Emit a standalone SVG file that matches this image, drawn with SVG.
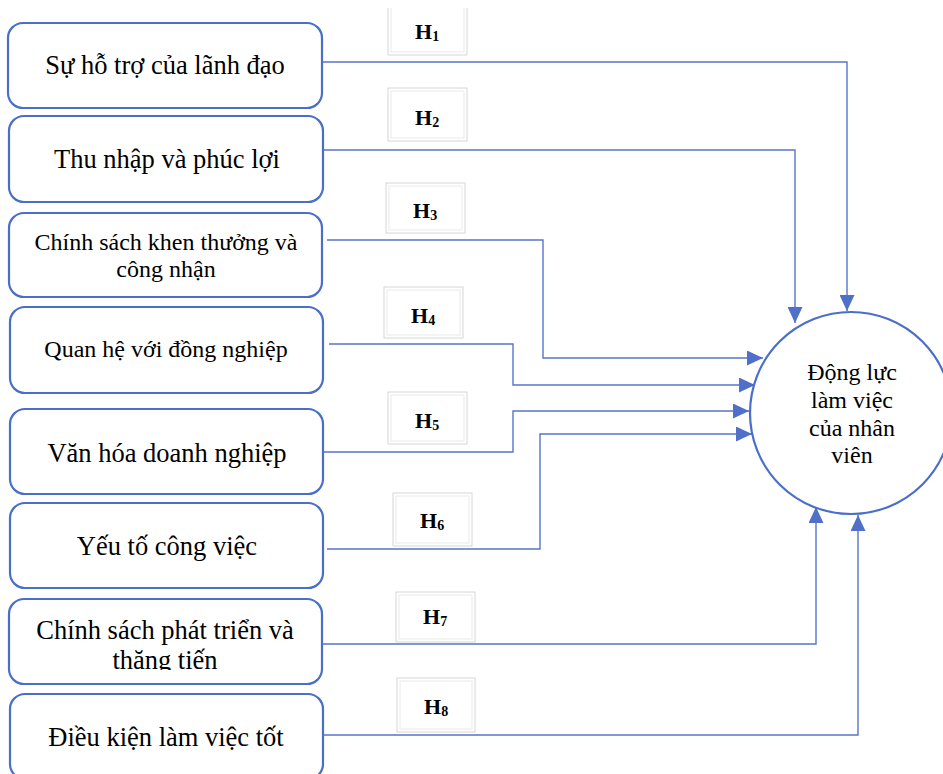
<svg xmlns="http://www.w3.org/2000/svg" width="943" height="774" viewBox="0 0 943 774">
  <style>
    .node { fill: #ffffff; stroke: #4a6fc8; stroke-width: 2.2; }
    .lbl { font-family: "Liberation Serif", "Times New Roman", serif; font-size: 26.5px; fill: #000000; text-anchor: middle; }
    .lbl-sm { font-size: 24px; }
    .hbox { fill: #ffffff; stroke: #d6d6d6; stroke-width: 1; }
    .hbox-in { fill: none; stroke: #e9e9e9; stroke-width: 1; }
    .htxt { font-family: "Liberation Serif", "Times New Roman", serif; font-size: 22px; font-weight: bold; fill: #000000; }
    .hsub { font-size: 14px; }
    .link { fill: none; stroke: #5874c8; stroke-width: 1.4; }
    .target { fill: #ffffff; stroke: #4a6fc8; stroke-width: 2.2; }
  </style>
  <defs>
    <marker id="arrow" viewBox="0 0 16 15" refX="16" refY="7.5" markerWidth="16" markerHeight="15" markerUnits="userSpaceOnUse" orient="auto">
      <path d="M0,0 L16,7.5 L0,15 Z" fill="#4f6fc9"/>
    </marker>
    <clipPath id="clip7">
      <rect x="0" y="590" width="340" height="80"/>
    </clipPath>
  </defs>

  <rect width="943" height="774" fill="#ffffff"/>

  <!-- connectors -->
  <g id="connectors">
    <path class="link" d="M322,62 H847 V311" marker-end="url(#arrow)"/>
    <path class="link" d="M323,150 H795 V323" marker-end="url(#arrow)"/>
    <path class="link" d="M327,240 H543 V358 H763" marker-end="url(#arrow)"/>
    <path class="link" d="M329,344 H513 V385 H755" marker-end="url(#arrow)"/>
    <path class="link" d="M324,452 H513 V411 H749" marker-end="url(#arrow)"/>
    <path class="link" d="M327,549 H540 V434 H752" marker-end="url(#arrow)"/>
    <path class="link" d="M323,644 H816 V507" marker-end="url(#arrow)"/>
    <path class="link" d="M324,735 H858 V515" marker-end="url(#arrow)"/>
  </g>

  <!-- hypothesis labels -->
  <g id="h1">
    <path class="hbox" d="M388,8 V55 H467 V8"/>
    <path class="hbox-in" d="M391,8 V52 H464 V8"/>
    <text class="htxt" x="415" y="39">H<tspan class="hsub" dy="2">1</tspan></text>
  </g>
  <g id="h2">
    <rect class="hbox" x="388" y="88" width="79" height="53"/>
    <rect class="hbox-in" x="391" y="91" width="73" height="47"/>
    <text class="htxt" x="415" y="125">H<tspan class="hsub" dy="2">2</tspan></text>
  </g>
  <g id="h3">
    <rect class="hbox" x="386" y="183" width="79" height="50"/>
    <rect class="hbox-in" x="389" y="186" width="73" height="44"/>
    <text class="htxt" x="413" y="218">H<tspan class="hsub" dy="2">3</tspan></text>
  </g>
  <g id="h4">
    <rect class="hbox" x="384" y="287" width="79" height="51"/>
    <rect class="hbox-in" x="387" y="290" width="73" height="45"/>
    <text class="htxt" x="411" y="323">H<tspan class="hsub" dy="2">4</tspan></text>
  </g>
  <g id="h5">
    <rect class="hbox" x="388" y="392" width="79" height="52"/>
    <rect class="hbox-in" x="391" y="395" width="73" height="46"/>
    <text class="htxt" x="415" y="428">H<tspan class="hsub" dy="2">5</tspan></text>
  </g>
  <g id="h6">
    <rect class="hbox" x="393" y="493" width="79" height="53"/>
    <rect class="hbox-in" x="396" y="496" width="73" height="47"/>
    <text class="htxt" x="420" y="528">H<tspan class="hsub" dy="2">6</tspan></text>
  </g>
  <g id="h7">
    <rect class="hbox" x="396" y="592" width="79" height="50"/>
    <rect class="hbox-in" x="399" y="595" width="73" height="44"/>
    <text class="htxt" x="423" y="624">H<tspan class="hsub" dy="2">7</tspan></text>
  </g>
  <g id="h8">
    <rect class="hbox" x="397" y="678" width="78" height="54"/>
    <rect class="hbox-in" x="400" y="681" width="72" height="48"/>
    <text class="htxt" x="424" y="714">H<tspan class="hsub" dy="2">8</tspan></text>
  </g>

  <!-- factor nodes -->
  <g id="node1">
    <rect class="node" x="8" y="23" width="314" height="85" rx="15"/>
    <text class="lbl" x="165" y="74">Sự hỗ trợ của lãnh đạo</text>
  </g>
  <g id="node2">
    <rect class="node" x="9" y="116" width="314" height="86" rx="15"/>
    <text class="lbl" x="167" y="168">Thu nhập và phúc lợi</text>
  </g>
  <g id="node3">
    <rect class="node" x="9" y="213" width="313" height="84" rx="15"/>
    <text class="lbl lbl-sm" x="166" y="250">Chính sách khen thưởng và</text>
    <text class="lbl lbl-sm" x="166" y="277">công nhận</text>
  </g>
  <g id="node4">
    <rect class="node" x="10" y="307" width="313" height="86" rx="15"/>
    <text class="lbl lbl-sm" x="166" y="357">Quan hệ với đồng nghiệp</text>
  </g>
  <g id="node5">
    <rect class="node" x="10" y="409" width="313" height="85" rx="15"/>
    <text class="lbl" x="167" y="462">Văn hóa doanh nghiệp</text>
  </g>
  <g id="node6">
    <rect class="node" x="10" y="503" width="313" height="85" rx="15"/>
    <text class="lbl" x="167" y="555">Yếu tố công việc</text>
  </g>
  <g id="node7">
    <rect class="node" x="9" y="599" width="313" height="85" rx="15"/>
    <g clip-path="url(#clip7)">
      <text class="lbl" x="165" y="639">Chính sách phát triển và</text>
      <text class="lbl" x="165" y="669">thăng tiến</text>
    </g>
  </g>
  <g id="node8">
    <rect class="node" x="10" y="694" width="313" height="85" rx="15"/>
    <text class="lbl" x="166" y="746">Điều kiện làm việc tốt</text>
  </g>

  <!-- outcome node -->
  <g id="outcome">
    <circle class="target" cx="851" cy="413" r="101"/>
    <text class="lbl lbl-sm" x="852" y="380">Động lực</text>
    <text class="lbl lbl-sm" x="852" y="408">làm việc</text>
    <text class="lbl lbl-sm" x="852" y="436">của nhân</text>
    <text class="lbl lbl-sm" x="852" y="463">viên</text>
  </g>
</svg>
